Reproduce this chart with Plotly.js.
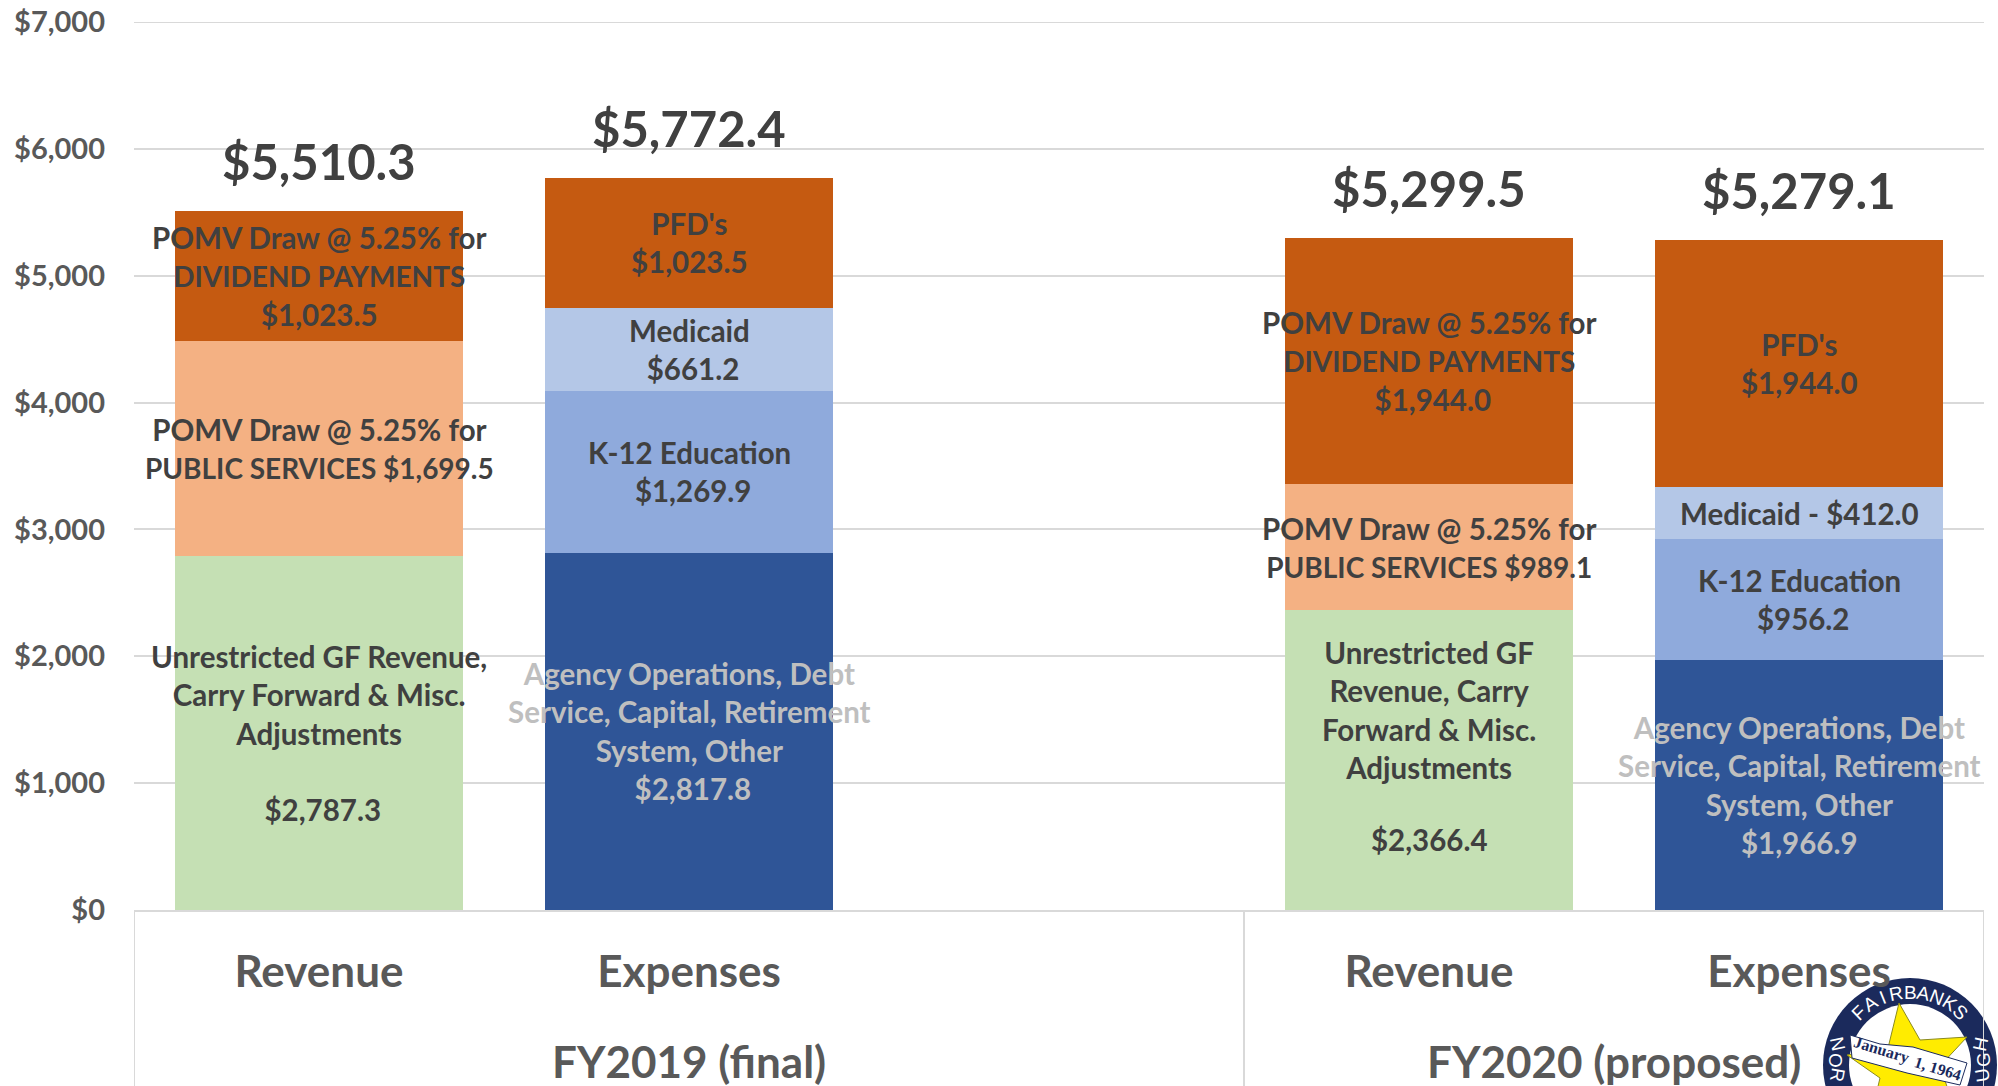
<!DOCTYPE html>
<html>
<head>
<meta charset="utf-8">
<script src="https://cdn.plot.ly/plotly-3.0.1.min.js"></script>
<style>html,body{margin:0;padding:0;background:#fff;overflow:hidden}</style>
</head>
<body>
<div id="chart" style="width:1998px;height:1086px"></div>
<script>
const slots = [0, 1, 2, 3, 4];
const barLabels = ["Revenue", "Expenses", "", "Revenue", "Expenses"];
const groupLabels = ["FY2019 (final)", "FY2020 (proposed)"];
const groupCenters = [1, 3.5];
const groupEdges = [-0.5, 2.5, 4.5];

const unrestricted = [2787.3, null, null, 2366.4, null];
const agency       = [null, 2817.8, null, null, 1966.9];
const pomvPublic   = [1699.5, null, null, 989.1, null];
const k12          = [null, 1269.9, null, null, 956.2];
const medicaid     = [null, 661.2, null, null, 412.0];
const dividends    = [1023.5, 1023.5, null, 1944.0, 1944.0];

const totals = [5510.3, 5772.4, null, 5299.5, 5279.1];
const totalLabels = ["$5,510.3", "$5,772.4", "", "$5,299.5", "$5,279.1"];

const caps = s => '<span style="font-size:28px">' + s + '</span>';
const unrestrictedText = ["Unrestricted GF Revenue,<br>Carry Forward & Misc.<br>Adjustments<br> <br> $2,787.3", null, null, "Unrestricted GF<br>Revenue, Carry<br>Forward & Misc.<br>Adjustments", null];
const agencyText = [null, "Agency Operations, Debt<br>Service, Capital, Retirement<br>System, Other<br> $2,817.8", null, null, "Agency Operations, Debt<br>Service, Capital, Retirement<br>System, Other<br>$1,966.9"];
const pomvPublicText = ["POMV Draw @ 5.25% for<br>" + caps("PUBLIC SERVICES $1,699.5"), null, null, "POMV Draw @ 5.25% for<br>" + caps("PUBLIC SERVICES $989.1"), null];
const k12Text = [null, "K-12 Education<br> $1,269.9", null, null, "K-12 Education<br> $956.2"];
const medicaidText = [null, "Medicaid<br> $661.2", null, null, "Medicaid - $412.0"];
const dividendsText = ["POMV Draw @ 5.25% for<br>" + caps("DIVIDEND PAYMENTS") + "<br>$1,023.5", "PFD's<br>$1,023.5", null, "POMV Draw @ 5.25% for<br>" + caps("DIVIDEND PAYMENTS") + "<br> $1,944.0", "PFD's<br>$1,944.0"];
/* the FY2020 revenue amount sits apart from its caption in the source */
const separateAmount = { slot: 3, text: "$2,366.4", value: 557 };
const captionShift = { slot: 3, series: 0, shift: 50 };

const seriesNames = ["Unrestricted GF Revenue", "Agency Operations", "POMV Public Services", "K-12 Education", "Medicaid", "Dividends / PFD"];
const seriesValues = [unrestricted, agency, pomvPublic, k12, medicaid, dividends];
const seriesText = [unrestrictedText, agencyText, pomvPublicText, k12Text, medicaidText, dividendsText];
const seriesColors = ["#C5E0B4", "#2F5597", "#F4B183", "#8FAADC", "#B4C7E7", "#C55A11"];
const labelColors = ["#404040", "#BFBFBF", "#404040", "#404040", "#404040", "#404040"];

const yTicks = [0, 1000, 2000, 3000, 4000, 5000, 6000, 7000];
const yTickLabels = ["$0", "$1,000", "$2,000", "$3,000", "$4,000", "$5,000", "$6,000", "$7,000"];

const FONT = "Lato, Carlito, Calibri, sans-serif";
const L = 134, T = 22, W = 1850, H = 888;
const px = v => (v - L) / W;
const py = v => (T + H - v) / H;

const traces = seriesValues.map((vals, i) => ({
  type: "bar", x: slots, y: vals, name: seriesNames[i],
  marker: { color: seriesColors[i], line: { width: 0 } },
  width: 0.78, hoverinfo: "name+y"
}));

const annotations = [];
const cum = slots.map(() => 0);
seriesValues.forEach((vals, i) => {
  vals.forEach((v, j) => {
    if (v == null) return;
    annotations.push({
      x: slots[j], y: cum[j] + v / 2, xref: "x", yref: "y",
      yshift: (captionShift.slot === j && captionShift.series === i) ? captionShift.shift : 0,
      text: seriesText[i][j], showarrow: false, align: "center",
      font: { family: FONT, size: 29.5, color: labelColors[i], weight: 700 }
    });
    cum[j] += v;
  });
});
annotations.push({
  x: slots[separateAmount.slot], y: separateAmount.value, xref: "x", yref: "y",
  text: separateAmount.text, showarrow: false,
  font: { family: FONT, size: 29.5, color: "#404040", weight: 700 }
});
totals.forEach((t, j) => {
  if (t == null) return;
  annotations.push({
    x: slots[j], y: t, xref: "x", yref: "y", yanchor: "bottom", yshift: 19,
    text: totalLabels[j], showarrow: false,
    font: { family: FONT, size: 49, color: "#404040", weight: 700 }
  });
});
groupLabels.forEach((g, i) => annotations.push({
  x: groupCenters[i], y: py(1061), xref: "x", yref: "paper", yanchor: "middle",
  text: g, showarrow: false,
  font: { family: FONT, size: 44, color: "#595959", weight: 700 }
}));

/* borough seal, bottom-right corner */
const sealX = 1910, sealY = 1065;
const circle = (r, fill) => ({
  type: "circle", xref: "paper", yref: "paper", layer: "below",
  x0: px(sealX - r), x1: px(sealX + r), y0: py(sealY + r), y1: py(sealY - r),
  fillcolor: fill, line: { width: 0 }
});
const poly = (pts, fill, lineColor) => ({
  type: "path", xref: "paper", yref: "paper", layer: "below",
  path: pts.map((p, i) => (i ? "L" : "M") + px(p[0]) + " " + py(p[1])).join(" ") + " Z",
  fillcolor: fill, line: { width: lineColor ? 1 : 0, color: lineColor || fill }
});
const star = [[1899,1003],[1920,1040],[1967,1037],[1940,1066],[1955,1110],[1905,1090],[1870,1120],[1880,1078],[1847,1055],[1888,1048]];
const ribbon = [[1850,1035],[1880,1044],[1913,1047],[1967,1063],[1960,1085],[1907,1073],[1852,1058]];

const sealNote = (c, x, y, angle, font) => annotations.push({
  x: px(x), y: py(y), xref: "paper", yref: "paper", xanchor: "center", yanchor: "middle",
  text: c, showarrow: false, textangle: angle, font
});
const sealFont = { family: "Liberation Sans", size: 19, color: "#FFFFFF" };
const sealLetters = ["F","A","I","R","B","A","N","K","S"];
const sealAngles = [-44,-33,-22,-11,0,11,22,33,44];
sealLetters.forEach((c, i) => {
  const a = sealAngles[i] * Math.PI / 180;
  sealNote(c, sealX + 73 * Math.sin(a), sealY - 73 * Math.cos(a), sealAngles[i], sealFont);
});
const sideLetters = ["N","O","R","H","G","U"];
const sideX = [1838,1836,1838,1980,1983,1982];
const sideY = [1044,1060,1075,1044,1060,1075];
const sideAngle = [78,90,100,-78,-90,-100];
sideLetters.forEach((c, i) => sealNote(c, sideX[i], sideY[i], sideAngle[i], sealFont));
const ribbonFont = { family: "Liberation Serif", size: 16, color: "#1B2A5C", weight: 700 };
sealNote("January", 1881, 1050, 17, ribbonFont);
sealNote("1, 1964", 1938, 1068, 17, ribbonFont);

const shapes = [
  circle(87, "#1B2A5C"), circle(61, "#FFFFFF"),
  poly(star, "#FFEC00", "#8a8a20"), poly(ribbon, "#FFFFFF", "#1B2A5C"),
  { type: "line", xref: "paper", yref: "y", x0: 0, x1: 1, y0: 7000, y1: 7000, layer: "below", line: { color: "#D9D9D9", width: 2 } }
];
groupEdges.forEach(e => shapes.push({
  type: "line", xref: "x", yref: "paper", x0: e, x1: e, y0: 0, y1: py(1086),
  line: { color: "#D9D9D9", width: 2 }, layer: "above"
}));

Plotly.newPlot("chart", traces, {
  width: 1998, height: 1086,
  margin: { l: L, r: 1998 - L - W, t: T, b: 1086 - T - H, pad: 0 },
  paper_bgcolor: "#FFFFFF", plot_bgcolor: "#FFFFFF",
  barmode: "stack", showlegend: false,
  font: { family: FONT },
  xaxis: {
    range: [-0.5, 4.5], tickmode: "array", tickvals: slots, ticktext: barLabels,
    showgrid: false, zeroline: false, showline: true, linecolor: "#D9D9D9", linewidth: 2,
    ticks: "", ticklabelstandoff: 22,
    tickfont: { family: FONT, size: 44, color: "#595959", weight: 700 }
  },
  yaxis: {
    range: [0, 7000], tickmode: "array", tickvals: yTicks, ticktext: yTickLabels,
    showgrid: true, gridcolor: "#D9D9D9", gridwidth: 2, zeroline: false, showline: false,
    ticks: "", ticklabelstandoff: 28,
    tickfont: { family: FONT, size: 29, color: "#595959", weight: 700 }
  },
  annotations, shapes
}, { displayModeBar: false, responsive: false });
</script>
</body>
</html>
